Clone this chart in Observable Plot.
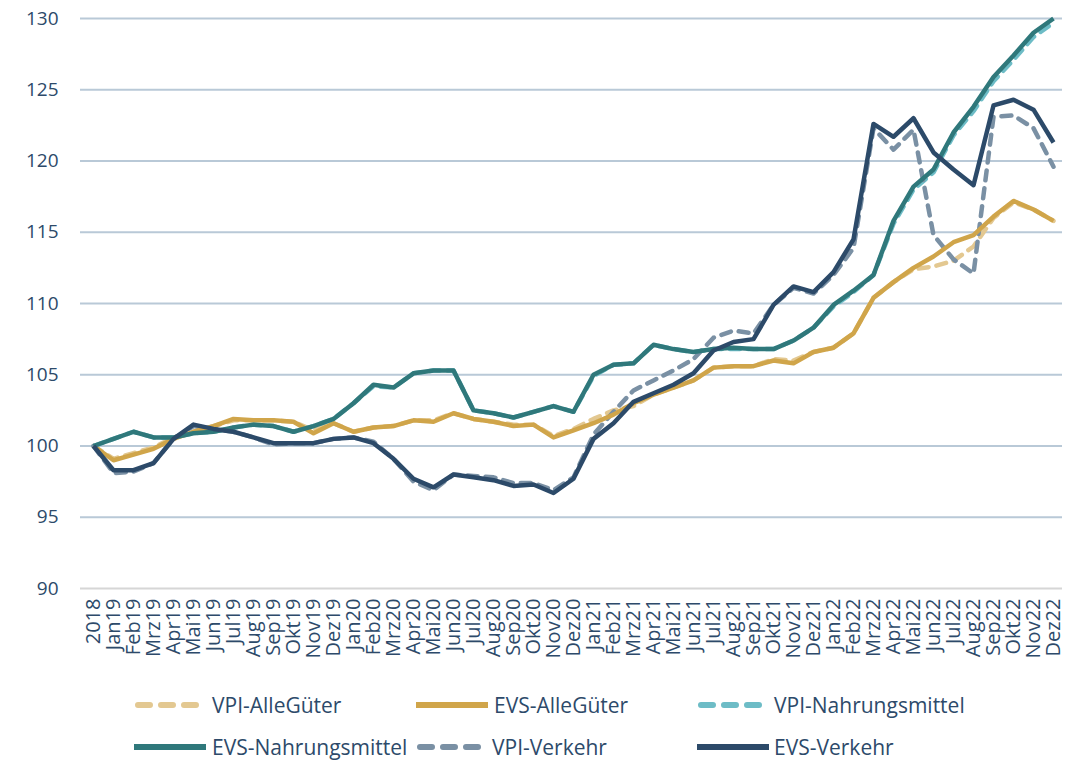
<!DOCTYPE html>
<html>
<head>
<meta charset="utf-8">
<script src="https://cdn.jsdelivr.net/npm/d3@7"></script>
<script src="https://cdn.jsdelivr.net/npm/@observablehq/plot@0.6"></script>
<style>
  html, body { margin: 0; padding: 0; background: #fff; }
  #wrap { position: relative; width: 1076px; height: 762px; overflow: hidden; }
  #legend { position: absolute; left: 0; top: 0; width: 1076px; height: 762px; pointer-events: none; }
  .item { position: absolute; display: flex; align-items: center; height: 24px; }
  .item span { font-family: "Open Sans", sans-serif; font-size: 21px; line-height: 24px; color: #2d4a6a; white-space: nowrap; }
  .item svg { display: block; }
</style>
</head>
<body>
<div id="wrap">
  <div id="chart"></div>
  <div id="legend"></div>
</div>
<script>
const labels = ["2018",
  "Jan19","Feb19","Mrz19","Apr19","Mai19","Jun19","Jul19","Aug19","Sep19","Okt19","Nov19","Dez19",
  "Jan20","Feb20","Mrz20","Apr20","Mai20","Jun20","Jul20","Aug20","Sep20","Okt20","Nov20","Dez20",
  "Jan21","Feb21","Mrz21","Apr21","Mai21","Jun21","Jul21","Aug21","Sep21","Okt21","Nov21","Dez21",
  "Jan22","Feb22","Mrz22","Apr22","Mai22","Jun22","Jul22","Aug22","Sep22","Okt22","Nov22","Dez22"];

const seriesNames = ["VPI-AlleGüter","EVS-AlleGüter","VPI-Nahrungsmittel","EVS-Nahrungsmittel","VPI-Verkehr","EVS-Verkehr"];

const vpiAlle = [100,
  99.1,99.5,99.9,100.6,101.0,101.4,101.8,101.8,101.8,101.7,101.1,101.6,
  101.0,101.3,101.4,101.8,101.8,102.3,101.9,101.7,101.5,101.5,100.7,101.2,
  101.9,102.5,102.8,103.6,104.1,104.6,105.5,105.6,105.6,106.1,106.0,106.6,
  106.9,107.9,110.4,111.5,112.4,112.6,113.0,114.0,116.0,117.1,116.6,115.8];
const evsAlle = [100,
  99.0,99.4,99.8,100.5,101.0,101.4,101.9,101.8,101.8,101.7,100.9,101.6,
  101.0,101.3,101.4,101.8,101.7,102.3,101.9,101.7,101.4,101.5,100.6,101.1,
  101.6,102.2,103.0,103.6,104.1,104.6,105.5,105.6,105.6,106.0,105.8,106.6,
  106.9,107.9,110.4,111.5,112.5,113.3,114.3,114.8,116.1,117.2,116.6,115.8];
const vpiNahr = [100,
  100.5,101.0,100.6,100.6,100.9,101.0,101.3,101.5,101.4,101.0,101.4,101.9,
  103.0,104.2,104.1,105.1,105.3,105.3,102.5,102.3,102.0,102.4,102.8,102.4,
  104.9,105.7,105.8,107.1,106.8,106.6,106.8,106.8,106.8,106.8,107.4,108.3,
  109.8,110.8,112.0,115.6,118.0,119.2,121.8,123.5,125.6,127.1,128.7,129.7];
const evsNahr = [100,
  100.5,101.0,100.6,100.6,100.9,101.0,101.3,101.5,101.4,101.0,101.4,101.9,
  103.0,104.3,104.1,105.1,105.3,105.3,102.5,102.3,102.0,102.4,102.8,102.4,
  105.0,105.7,105.8,107.1,106.8,106.6,106.8,106.9,106.8,106.8,107.4,108.3,
  109.9,110.9,112.0,115.8,118.2,119.4,122.0,123.8,125.9,127.4,129.0,130.0];
const vpiVerk = [100,
  98.1,98.2,98.8,100.5,101.4,101.2,101.0,100.6,100.1,100.2,100.2,100.5,
  100.6,100.3,99.1,97.5,96.9,98.0,97.9,97.8,97.4,97.4,96.9,97.8,
  100.8,102.4,103.9,104.6,105.3,106.1,107.6,108.1,107.9,109.9,111.1,110.7,
  112.0,113.9,122.3,120.8,122.2,114.8,113.1,112.1,123.1,123.2,122.3,119.6];
const evsVerk = [100,
  98.3,98.3,98.8,100.5,101.5,101.2,101.0,100.6,100.2,100.2,100.2,100.5,
  100.6,100.2,99.1,97.7,97.1,98.0,97.8,97.6,97.2,97.3,96.7,97.7,
  100.5,101.6,103.1,103.7,104.3,105.1,106.7,107.3,107.5,109.9,111.2,110.8,
  112.2,114.5,122.6,121.7,123.0,120.6,119.4,118.3,123.9,124.3,123.6,121.3];

const yTicks = [90,95,100,105,110,115,120,125,130];

const seriesValues = [vpiAlle, evsAlle, vpiNahr, evsNahr, vpiVerk, evsVerk];
const colors = ["#e3c891","#d0a54a","#6dbcc6","#2f787b","#7a90a4","#2c4a69"];
const dashed = [true,false,true,false,true,false];
const DASH = "10,8";

const rows = [];
seriesNames.forEach((name, s) => {
  labels.forEach((lab, i) => rows.push({series: name, label: lab, value: seriesValues[s][i]}));
});

const drawOrder = [0,2,4,1,3,5];
const lineMarks = drawOrder.map(s => Plot.line(rows.filter(d => d.series === seriesNames[s]), {
  x: "label", y: "value",
  stroke: colors[s], strokeWidth: 4.5,
  strokeDasharray: dashed[s] ? DASH : null,
  strokeLinecap: dashed[s] ? "round" : "butt",
  strokeLinejoin: "round"
}));

const chart = Plot.plot({
  width: 1076,
  height: 680,
  marginTop: 18,
  marginBottom: 92,
  marginLeft: 80,
  marginRight: 14,
  style: {fontFamily: "'Open Sans', sans-serif", color: "#2d4a6a", background: "#fff"},
  x: {type: "point", domain: labels, padding: 0, insetLeft: 10, insetRight: 7},
  y: {domain: [90, 130], axis: null},
  marks: [
    Plot.ruleY(yTicks.filter(v => v > 90), {stroke: "#b9c9d7", strokeWidth: 2}),
    Plot.ruleY([90], {stroke: "#d6d6d6", strokeWidth: 2}),
    Plot.text(yTicks, {y: d => d, text: d => String(d), frameAnchor: "left", dx: -22, textAnchor: "end", fontSize: 19, fill: "#2d4a6a"}),
    Plot.axisX({tickRotate: -90, tickSize: 0, tickPadding: 10, label: null, fontSize: 20, fill: "#2d4a6a"}),
    ...lineMarks
  ]
});
document.getElementById("chart").appendChild(chart);

// legend (HTML below the SVG)
const legendPos = [
  {sx: 134, sw: 66, tx: 212, top: 693},
  {sx: 416, sw: 72, tx: 494, top: 693},
  {sx: 697, sw: 66, tx: 774, top: 693},
  {sx: 134, sw: 72, tx: 212, top: 735},
  {sx: 416, sw: 66, tx: 492, top: 735},
  {sx: 697, sw: 72, tx: 774, top: 735}
];
const legend = document.getElementById("legend");
seriesNames.forEach((name, s) => {
  const p = legendPos[s];
  const sw = document.createElement("div");
  sw.className = "item";
  sw.style.left = p.sx + "px";
  sw.style.top = p.top + "px";
  sw.innerHTML = `<svg width="${p.sw}" height="24"><line x1="${dashed[s] ? 4 : 0}" x2="${dashed[s] ? p.sw - 4 : p.sw}" y1="12" y2="12" stroke="${colors[s]}" stroke-width="6" ${dashed[s] ? `stroke-dasharray="12,11" stroke-linecap="round"` : `stroke-linecap="round"`}/></svg>`;
  legend.appendChild(sw);
  const tx = document.createElement("div");
  tx.className = "item";
  tx.style.left = p.tx + "px";
  tx.style.top = p.top + "px";
  tx.innerHTML = `<span>${name}</span>`;
  legend.appendChild(tx);
});
</script>
</body>
</html>
